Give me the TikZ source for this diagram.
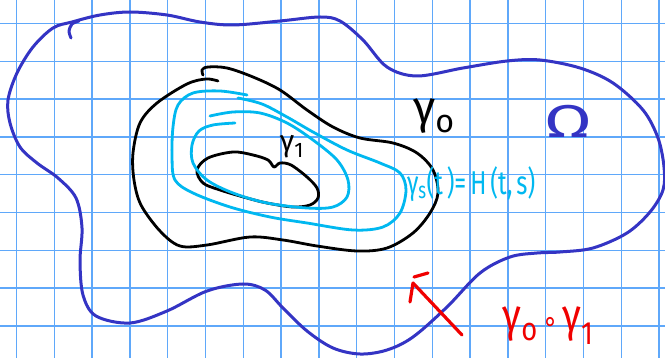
\documentclass[tikz,border=0pt]{standalone}
\usepackage{fontspec}
\setmainfont{Fira Sans}
\newfontfamily\symfont{DejaVu Sans}
\definecolor{gridc}{RGB}{95,168,250}
\definecolor{omegac}{RGB}{52,52,196}
\definecolor{cyanc}{RGB}{0,184,240}
\definecolor{redc}{RGB}{240,0,0}
\begin{document}
\begin{tikzpicture}[x=1pt,y=-1pt,
  gridline/.style={gridc,line width=1.4pt},
  omegaline/.style={omegac,line width=3pt,line cap=round,line join=round},
  blackline/.style={black,line width=2.8pt,line cap=round,line join=round},
  cyanline/.style={cyanc,line width=2.8pt,line cap=round,line join=round},
  redline/.style={redc,line width=3.2pt,line cap=round,line join=round},
  lab/.style={inner sep=0pt,outer sep=0pt}]
\useasboundingbox (0,0) rectangle (665,358);
\fill[white] (0,0) rectangle (665,358);
% grid
\foreach \k in {0,...,17} {\draw[gridline] ({16.5+37.8*\k},0) -- ({16.5+37.8*\k},358);}
\foreach \k in {0,...,8} {\draw[gridline] (0,{23.5+37.8*\k}) -- (665,{23.5+37.8*\k});}
% Omega boundary
\draw[omegaline] plot[smooth cycle,tension=0.55] coordinates {
 (72,22) (100,15) (130,12) (167,15) (200,22) (233,25) (280,21) (320,17) (340,21)
 (363,40) (387,67) (417,76) (463,68) (507,61) (540,60) (580,68) (613,83) (643,110)
 (658,138) (664,167) (663,190) (650,212) (627,233) (593,248) (560,252) (537,253)
 (510,257) (480,273) (447,307) (413,337) (387,350) (360,354) (333,348) (307,331)
 (283,308) (265,290) (243,284) (207,291) (167,311) (130,323) (96,316) (83,295)
 (80,261) (82,228) (76,198) (58,178) (37,163) (20,147) (10,123) (8,100) (17,73)
 (33,47) (53,28)};
\draw[omegaline] plot[smooth] coordinates {(79,21) (72,24) (69,31) (71,38)};
% gamma_0
\draw[blackline] plot[smooth,tension=0.55] coordinates {
 (203,75) (202,70) (208,67) (227,68) (253,77) (280,90) (307,110) (333,127) (360,138)
 (393,143) (417,153) (433,170) (438,193) (430,213) (413,233) (387,248) (357,251)
 (317,246) (283,240) (250,237) (207,245) (180,246) (160,231) (141,205) (134,180)
 (133,153) (140,123) (157,103) (187,84) (206,79) (218,81)};
% gamma_1
\draw[blackline] plot[smooth cycle,tension=0.55] coordinates {
 (197,170) (208,158) (233,152) (253,155) (268,160) (274,167) (280,163) (291,165)
 (307,177) (317,188) (318,198) (310,205) (293,207) (267,203) (247,198) (220,190) (203,183)};
% outer cyan
\draw[cyanline] plot[smooth,tension=0.55] coordinates {
 (247,95) (220,91) (193,93) (178,105) (173,127) (172,157) (175,180) (193,193)
 (230,207) (270,217) (307,223) (353,230) (383,227) (400,213) (406,190) (400,173)
 (380,163) (347,150) (313,132) (287,117) (262,104) (238,98)};
% inner cyan
\draw[cyanline] plot[smooth,tension=0.55] coordinates {
 (210,116) (233,112) (260,113) (287,123) (313,140) (337,160) (348,180) (347,197)
 (333,207) (307,208) (267,203) (233,193) (207,180) (193,163) (192,145) (199,131)
 (213,125) (235,123)};
% labels
\node[lab,font=\fontsize{46}{46}\selectfont] (g0) at (434,116) {γ\textsubscript{o}};
\node[lab,text=omegac,font=\fontsize{46}{46}\selectfont,xscale=1.5] (om) at (568,121) {Ω};
\node[lab,font=\fontsize{30}{30}\selectfont] (g1) at (292,147) {γ\textsubscript{1}};
\node[lab,anchor=west,text=cyanc,font=\fontsize{33}{33}\selectfont,xscale=0.72] (gs) at (407,184) {γ\textsubscript{s}(t\,)=\,H\,(t,\,s)};
\node[lab,text=redc,font=\fontsize{46}{46}\selectfont,xscale=0.85] (comp) at (548,326) {γ\textsubscript{o}{\symfont\fontsize{30}{30}\selectfont\,∘\,}γ\textsubscript{1}};
% red arrow
\coordinate (atail) at (462,335);
\coordinate (atip) at (413,283);
\draw[redline] (atail) -- (atip);
\draw[redline] (atip) -- (410,302);
\draw[redline] (414,277) -- (428,273);
\end{tikzpicture}
\end{document}
